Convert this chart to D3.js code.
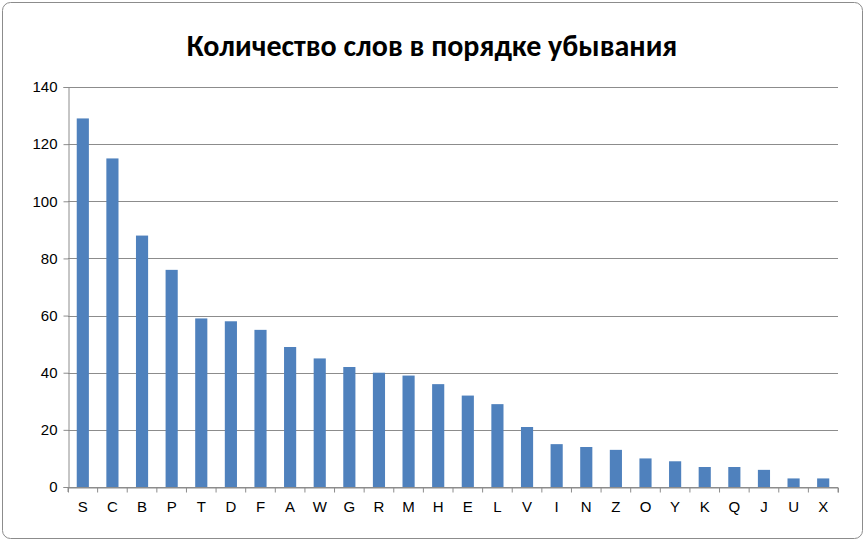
<!DOCTYPE html>
<html><head><meta charset="utf-8">
<script src="https://cdnjs.cloudflare.com/ajax/libs/d3/7.8.4/d3.min.js"></script>
<style>body{margin:0;background:#fff}</style>
</head><body>
<script>
const letters = ['S','C','B','P','T','D','F','A','W','G','R','M','H','E','L','V','I','N','Z','O','Y','K','Q','J','U','X'];
const counts = [129,115,88,76,59,58,55,49,45,42,40,39,36,32,29,21,15,14,13,10,9,7,7,6,3,3];
const yTicks = [0,20,40,60,80,100,120,140];
const title = 'Количество слов в порядке убывания';

const W = 868, H = 544;
const margin = {top: 87, right: 30, bottom: 57, left: 68};
const svg = d3.select('body').append('svg').attr('width', W).attr('height', H)
  .style('font-family', 'Calibri, Carlito, "Liberation Sans", Arial, sans-serif');

svg.append('rect').attr('x', 2.5).attr('y', 2.5).attr('width', W - 8).attr('height', H - 8)
  .attr('rx', 8).attr('fill', '#fff').attr('stroke', '#8c8c8c');

svg.append('text').attr('x', 432).attr('y', 56).attr('text-anchor', 'middle')
  .attr('font-size', 30).attr('font-weight', 'bold').attr('fill', '#000').text(title);

const x = d3.scaleBand().domain(letters).range([margin.left, W - margin.right]).paddingInner(0.59).paddingOuter(0.295);
const y = d3.scaleLinear().domain([0, 140]).range([H - margin.bottom, margin.top]);

const g = svg.append('g');
g.selectAll('.grid').data(yTicks).join('line')
  .attr('x1', margin.left).attr('x2', W - margin.right)
  .attr('y1', d => Math.round(y(d)) + 0.5).attr('y2', d => Math.round(y(d)) + 0.5)
  .attr('stroke', '#8c8c8c');

g.selectAll('.bar').data(counts).join('rect')
  .attr('x', (d, i) => x(letters[i])).attr('width', x.bandwidth())
  .attr('y', d => y(d)).attr('height', d => y(0) - y(d))
  .attr('fill', '#4f81bd');

const ya = svg.append('g').attr('transform', `translate(${margin.left + 0.5},0)`)
  .call(d3.axisLeft(y).tickValues(yTicks).tickSize(5).tickPadding(6));
const xa = svg.append('g').attr('transform', `translate(0,${Math.round(y(0)) + 0.5})`)
  .call(d3.axisBottom(x).tickSize(5).tickPadding(9));
xa.selectAll('.tick line').attr('transform', `translate(${x.step() / 2},0)`);
svg.append('line').attr('x1', x.range()[0] - 0).attr('x2', x.range()[0])
  .attr('y1', y(0)).attr('y2', y(0) + 5).attr('stroke', '#8c8c8c');
[ya, xa].forEach(a => {
  a.selectAll('path,line').attr('stroke', '#8c8c8c');
  a.selectAll('text').attr('font-size', 15).attr('fill', '#000').style('font-family', 'inherit');
});
</script>
</body></html>
